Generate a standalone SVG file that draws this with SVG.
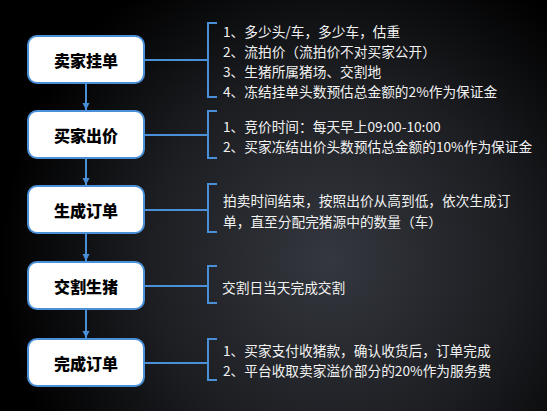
<svg xmlns="http://www.w3.org/2000/svg" width="547" height="411" viewBox="0 0 547 411">
<defs>
<radialGradient id="bg" cx="330" cy="260" r="330" gradientUnits="userSpaceOnUse">
<stop offset="0" stop-color="#34373e"/>
<stop offset="0.55" stop-color="#1c1e22"/>
<stop offset="1" stop-color="#000000"/>
</radialGradient>
<marker id="arr" markerWidth="8" markerHeight="8" refX="7" refY="4" orient="auto" markerUnits="userSpaceOnUse">
<path d="M0,0.5 L7,4 L0,7.5 Z" fill="#4a90d9"/>
</marker>
</defs>
<style>
.box{fill:#ffffff;stroke:#4a90d9;stroke-width:2}
.lbl{font-family:"Noto Sans CJK SC","Liberation Sans",sans-serif;font-size:16px;font-weight:900;fill:#000;text-anchor:middle;dominant-baseline:central}
.txt{font-family:"Noto Sans CJK SC","Liberation Sans",sans-serif;font-size:13.7px;fill:#f2f2f2;dominant-baseline:central}
.ln{fill:none;stroke:#4a90d9;stroke-width:2}
</style>
<rect width="547" height="411" fill="url(#bg)"/>
<g id="connectors">
<line class="ln" x1="86" y1="84" x2="86" y2="110" marker-end="url(#arr)"/>
<line class="ln" x1="86" y1="159" x2="86" y2="185" marker-end="url(#arr)"/>
<line class="ln" x1="86" y1="234" x2="86" y2="261" marker-end="url(#arr)"/>
<line class="ln" x1="86" y1="310" x2="86" y2="338" marker-end="url(#arr)"/>
<line class="ln" x1="145" y1="60" x2="208" y2="60"/>
<line class="ln" x1="145" y1="135" x2="208" y2="135"/>
<line class="ln" x1="145" y1="210" x2="208" y2="210"/>
<line class="ln" x1="145" y1="286" x2="208" y2="286"/>
<line class="ln" x1="145" y1="363" x2="208" y2="363"/>
<path class="ln" d="M217,23 H208 V97 H217"/>
<path class="ln" d="M217,111 H208 V158 H217"/>
<path class="ln" d="M217,184 H208 V232 H217"/>
<path class="ln" d="M217,266 H208 V303 H217"/>
<path class="ln" d="M217,339 H208 V380 H217"/>
</g>
<g id="n1">
<rect class="box" x="28" y="36" width="116" height="47" rx="9"/>
<text class="lbl" x="86" y="60">卖家挂单</text>
</g>
<g id="n2">
<rect class="box" x="28" y="111" width="116" height="47" rx="9"/>
<text class="lbl" x="86" y="135">买家出价</text>
</g>
<g id="n3">
<rect class="box" x="28" y="186" width="116" height="47" rx="9"/>
<text class="lbl" x="86" y="210">生成订单</text>
</g>
<g id="n4">
<rect class="box" x="28" y="262" width="116" height="47" rx="9"/>
<text class="lbl" x="86" y="286">交割生猪</text>
</g>
<g id="n5">
<rect class="box" x="28" y="339" width="116" height="47" rx="9"/>
<text class="lbl" x="86" y="363">完成订单</text>
</g>
<g id="t1">
<text class="txt" x="223" y="31">1、多少头/车，多少车，估重</text>
<text class="txt" x="223" y="51">2、流拍价（流拍价不对买家公开）</text>
<text class="txt" x="223" y="71">3、生猪所属猪场、交割地</text>
<text class="txt" x="223" y="91">4、冻结挂单头数预估总金额的2%作为保证金</text>
</g>
<g id="t2">
<text class="txt" x="223" y="125.5">1、竞价时间：每天早上09:00-10:00</text>
<text class="txt" x="223" y="145.5">2、买家冻结出价头数预估总金额的10%作为保证金</text>
</g>
<g id="t3">
<text class="txt" x="223" y="200">拍卖时间结束，按照出价从高到低，依次生成订</text>
<text class="txt" x="223" y="221">单，直至分配完猪源中的数量（车）</text>
</g>
<g id="t4">
<text class="txt" x="222" y="287">交割日当天完成交割</text>
</g>
<g id="t5">
<text class="txt" x="223" y="349.5">1、买家支付收猪款，确认收货后，订单完成</text>
<text class="txt" x="223" y="369.5">2、平台收取卖家溢价部分的20%作为服务费</text>
</g>
</svg>
